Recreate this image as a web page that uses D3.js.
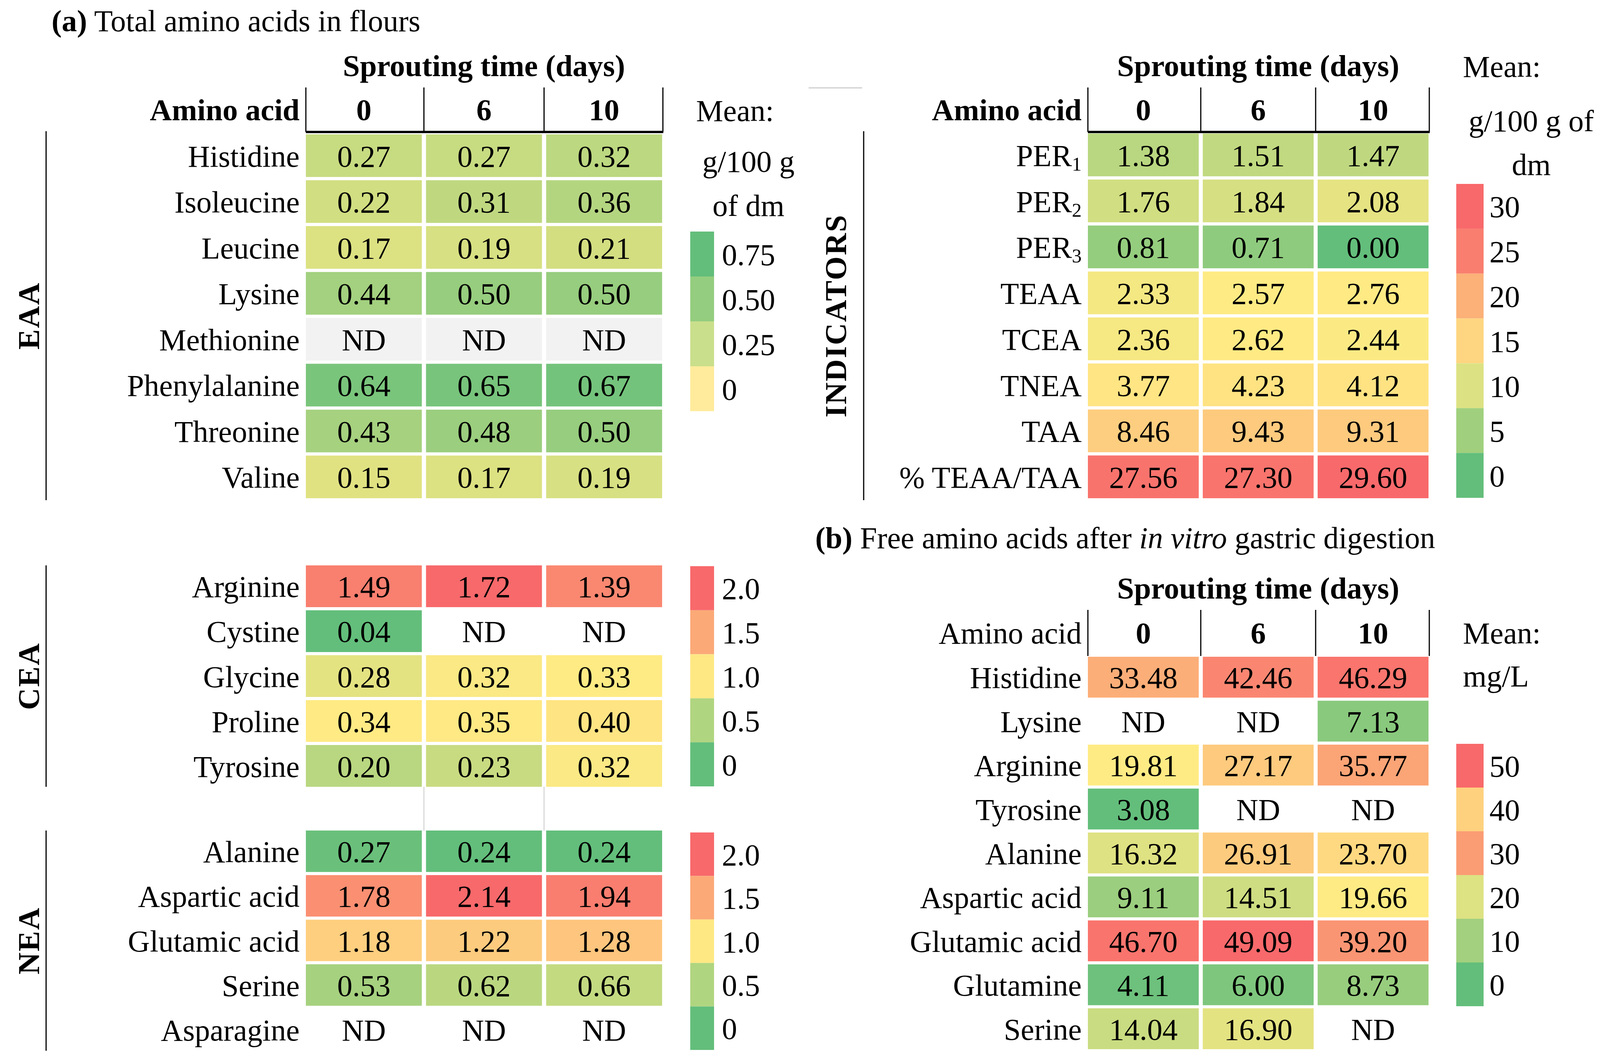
<!DOCTYPE html>
<html>
<head>
<meta charset="utf-8">
<script src="https://cdn.jsdelivr.net/npm/d3@7"></script>
<style>
  body { margin: 0; background: #fff; }
  text { font-family: "Liberation Serif", "Times New Roman", serif; font-size: 78px; fill: #000; }
</style>
</head>
<body>
<svg id="chart" width="4098" height="2725"></svg>
<script>
// sprouting days (columns)
const days = ['0', '6', '10'];

// (a) total amino acids, g/100 g dm  (null = ND)
const eaaNames = ['Histidine', 'Isoleucine', 'Leucine', 'Lysine', 'Methionine', 'Phenylalanine', 'Threonine', 'Valine'];
const eaaValues = [
  [0.27, 0.27, 0.32], [0.22, 0.31, 0.36], [0.17, 0.19, 0.21], [0.44, 0.50, 0.50],
  [null, null, null], [0.64, 0.65, 0.67], [0.43, 0.48, 0.50], [0.15, 0.17, 0.19]
];
const ceaNames = ['Arginine', 'Cystine', 'Glycine', 'Proline', 'Tyrosine'];
const ceaValues = [
  [1.49, 1.72, 1.39], [0.04, null, null], [0.28, 0.32, 0.33], [0.34, 0.35, 0.40], [0.20, 0.23, 0.32]
];
const neaNames = ['Alanine', 'Aspartic acid', 'Glutamic acid', 'Serine', 'Asparagine'];
const neaValues = [
  [0.27, 0.24, 0.24], [1.78, 2.14, 1.94], [1.18, 1.22, 1.28], [0.53, 0.62, 0.66], [null, null, null]
];
const indicatorNames = ['PER1', 'PER2', 'PER3', 'TEAA', 'TCEA', 'TNEA', 'TAA', '% TEAA/TAA'];
const indicatorValues = [
  [1.38, 1.51, 1.47], [1.76, 1.84, 2.08], [0.81, 0.71, 0.00], [2.33, 2.57, 2.76],
  [2.36, 2.62, 2.44], [3.77, 4.23, 4.12], [8.46, 9.43, 9.31], [27.56, 27.30, 29.60]
];

// (b) free amino acids after in vitro gastric digestion, mg/L
const freeNames = ['Histidine', 'Lysine', 'Arginine', 'Tyrosine', 'Alanine', 'Aspartic acid', 'Glutamic acid', 'Glutamine', 'Serine'];
const freeValues = [
  [33.48, 42.46, 46.29], [null, null, 7.13], [19.81, 27.17, 35.77], [3.08, null, null],
  [16.32, 26.91, 23.70], [9.11, 14.51, 19.66], [46.70, 49.09, 39.20], [4.11, 6.00, 8.73], [14.04, 16.90, null]
];

// rows whose ND cells are shaded grey
const shadedND = ['Methionine'];

// legend ticks
const eaaLegendTicks = ['0.75', '0.50', '0.25', '0'];
const aaLegendTicks = ['2.0', '1.5', '1.0', '0.5', '0'];
const indicatorLegendTicks = ['30', '25', '20', '15', '10', '5', '0'];
const freeLegendTicks = ['50', '40', '30', '20', '10', '0'];

const GREEN = '#63BE7B', YELLOW = '#FFEB84', RED = '#F8696B';
const eaaLegendColors = ['#63BE7B', '#94CD7F', '#C9DF8B', '#FFEB9B'];
const aaLegendColors = ['#F8696B', '#FBA977', '#FEE883', '#B0D580', '#63BE7B'];
const indicatorLegendColors = ['#F8696B', '#F97E6F', '#FBB178', '#FED580', '#DCE283', '#A0D07E', '#63BE7B'];
const freeLegendColors = ['#F8696B', '#FED17E', '#FA9C74', '#DDE283', '#A2D07E', '#63BE7B'];

const svg = d3.select('#chart');

const colLeft = d3.scaleBand().domain(days).range([783, 1695]).paddingInner(0.035);
const colRight = d3.scaleBand().domain(days).range([2785, 3657]).paddingInner(0.035);

// Excel-like 3-colour scale: lowest / 50th percentile / highest
function excelScale(values) {
  const v = values.flat().filter(d => d != null);
  return d3.scaleLinear()
      .domain([d3.min(v), d3.median(v), d3.max(v)])
      .range([GREEN, YELLOW, RED]);
}

function colBounds(col) {
  const [r0, r1] = col.range();
  const half = col.step() * col.paddingInner() / 2;
  return [r0, ...days.slice(1).map(d => col(d) - half), r1 + 2];
}

function addLabel(sel, name) {
  const m = name.match(/^PER(\d)$/);
  if (m) {
    sel.text('PER');
    sel.append('tspan').attr('dy', 12).style('font-size', '50px').text(m[1]);
  } else {
    sel.text(name);
  }
}

function drawTable(names, values, rowRange, col, color) {
  const rows = d3.scaleBand().domain(names).range(rowRange).paddingInner(0.07);
  const cells = names.flatMap((n, i) => values[i].map((v, j) => ({name: n, day: days[j], v})));
  const g = svg.append('g');

  g.selectAll('rect')
    .data(cells.filter(c => c.v != null || shadedND.includes(c.name)))
    .join('rect')
      .attr('x', c => col(c.day))
      .attr('y', c => rows(c.name))
      .attr('width', col.bandwidth())
      .attr('height', rows.bandwidth())
      .attr('fill', c => c.v == null ? '#F2F2F2' : color(c.v));

  g.selectAll('text.val')
    .data(cells)
    .join('text')
      .attr('class', 'val')
      .attr('x', c => col(c.day) + col.bandwidth() / 2)
      .attr('y', c => rows(c.name) + rows.bandwidth() / 2 + 28)
      .attr('text-anchor', 'middle')
      .text(c => c.v == null ? 'ND' : c.v.toFixed(2));

  g.selectAll('text.lab')
    .data(names)
    .join('text')
      .attr('class', 'lab')
      .attr('x', col.range()[0] - 16)
      .attr('y', d => rows(d) + rows.bandwidth() / 2 + 28)
      .attr('text-anchor', 'end')
      .each(function(d) { addLabel(d3.select(this), d); });

  return rows;
}

function drawHeader(col, top, bottom, textY, boldLabel, thickLine) {
  const g = svg.append('g');
  g.selectAll('line')
    .data(colBounds(col))
    .join('line')
      .attr('x1', d => d).attr('x2', d => d)
      .attr('y1', top).attr('y2', bottom)
      .attr('stroke', '#000').attr('stroke-width', 3);
  if (thickLine) {
    g.append('line')
      .attr('x1', col.range()[0]).attr('x2', col.range()[1] + 3)
      .attr('y1', bottom).attr('y2', bottom)
      .attr('stroke', '#000').attr('stroke-width', 6);
  }
  g.selectAll('text.day')
    .data(days)
    .join('text')
      .attr('class', 'day')
      .attr('x', d => col(d) + col.bandwidth() / 2)
      .attr('y', textY)
      .attr('text-anchor', 'middle')
      .attr('font-weight', 'bold')
      .text(d => d);
  g.append('text')
    .attr('x', col.range()[0] - 16)
    .attr('y', textY)
    .attr('text-anchor', 'end')
    .attr('font-weight', boldLabel ? 'bold' : 'normal')
    .text('Amino acid');
  g.append('text')
    .attr('x', (col.range()[0] + col.range()[1]) / 2)
    .attr('y', top - 29)
    .attr('text-anchor', 'middle')
    .attr('font-weight', 'bold')
    .text('Sprouting time (days)');
}

function drawLegend(ticks, colors, x0, x1, yRange, labelX) {
  const y = d3.scaleBand().domain(ticks).range(yRange);
  const g = svg.append('g');
  g.selectAll('rect')
    .data(ticks)
    .join('rect')
      .attr('x', x0).attr('width', x1 - x0)
      .attr('y', d => y(d)).attr('height', y.bandwidth())
      .attr('fill', (d, i) => colors[i]);
  g.selectAll('text')
    .data(ticks)
    .join('text')
      .attr('x', labelX)
      .attr('y', d => y(d) + y.bandwidth() / 2 + 28)
      .text(d => d);
}

function drawGroup(label, x, textX, rows) {
  const [y0, y1] = rows;
  svg.append('line')
    .attr('x1', x).attr('x2', x).attr('y1', y0).attr('y2', y1)
    .attr('stroke', '#000').attr('stroke-width', 3);
  svg.append('text')
    .attr('transform', `translate(${textX},${(y0 + y1) / 2}) rotate(-90)`)
    .attr('text-anchor', 'middle')
    .attr('font-weight', 'bold')
    .attr('letter-spacing', 3)
    .text(label);
}

// ---------- panel (a) ----------
svg.append('text').attr('x', 132).attr('y', 80)
  .call(t => t.append('tspan').attr('font-weight', 'bold').text('(a)'))
  .call(t => t.append('tspan').text(' Total amino acids in flours'));

drawHeader(colLeft, 224, 338, 308, true, true);
drawTable(eaaNames, eaaValues, [344, 1276], colLeft,
  d3.scaleLinear().domain([0, 0.75]).range([YELLOW, GREEN]));
const ceaRows = drawTable(ceaNames, ceaValues, [1448, 2015], colLeft, excelScale(ceaValues));
const neaRows = drawTable(neaNames, neaValues, [2127, 2690], colLeft, excelScale(neaValues));

// faint grid lines between the CEA and NEA blocks
svg.append('g').selectAll('line')
  .data(colBounds(colLeft).slice(1, 3))
  .join('line')
    .attr('x1', d => d).attr('x2', d => d)
    .attr('y1', ceaRows.range()[1]).attr('y2', neaRows.range()[0])
    .attr('stroke', '#D9D9D9').attr('stroke-width', 3);

drawGroup('EAA', 118, 100, [336, 1281]);
drawGroup('CEA', 118, 100, [1448, 2015]);
drawGroup('NEA', 118, 100, [2127, 2691]);

svg.append('text').attr('x', 1782).attr('y', 310).text('Mean:');
svg.append('text').attr('x', 1916).attr('y', 440).attr('text-anchor', 'middle').text('g/100 g');
svg.append('text').attr('x', 1916).attr('y', 553).attr('text-anchor', 'middle').text('of dm');
drawLegend(eaaLegendTicks, eaaLegendColors, 1767, 1828, [593, 1053], 1848);
drawLegend(aaLegendTicks, aaLegendColors, 1767, 1828, [1450, 2014], 1848);
drawLegend(aaLegendTicks, aaLegendColors, 1767, 1828, [2132, 2689], 1848);

// ---------- indicators ----------
svg.append('line').attr('x1', 2070).attr('x2', 2207).attr('y1', 225).attr('y2', 225)
  .attr('stroke', '#D9D9D9').attr('stroke-width', 4);
drawHeader(colRight, 224, 338, 308, true, true);
drawTable(indicatorNames, indicatorValues, [342, 1276], colRight, excelScale(indicatorValues));
drawGroup('INDICATORS', 2211, 2166, [336, 1281]);

svg.append('text').attr('x', 3745).attr('y', 197).text('Mean:');
svg.append('text').attr('x', 3920).attr('y', 336).attr('text-anchor', 'middle').text('g/100 g of');
svg.append('text').attr('x', 3920).attr('y', 448).attr('text-anchor', 'middle').text('dm');
drawLegend(indicatorLegendTicks, indicatorLegendColors, 3728, 3798, [471, 1275], 3813);

// ---------- panel (b) ----------
svg.append('text').attr('x', 2087).attr('y', 1404)
  .call(t => t.append('tspan').attr('font-weight', 'bold').text('(b)'))
  .call(t => t.append('tspan').text(' Free amino acids after '))
  .call(t => t.append('tspan').attr('font-style', 'italic').text('in vitro'))
  .call(t => t.append('tspan').text(' gastric digestion'));

drawHeader(colRight, 1562, 1680, 1648, false, false);
drawTable(freeNames, freeValues, [1682, 2687], colRight, excelScale(freeValues));

svg.append('text').attr('x', 3745).attr('y', 1648).text('Mean:');
svg.append('text').attr('x', 3745).attr('y', 1758).text('mg/L');
drawLegend(freeLegendTicks, freeLegendColors, 3728, 3798, [1905, 2577], 3813);
</script>
</body>
</html>
